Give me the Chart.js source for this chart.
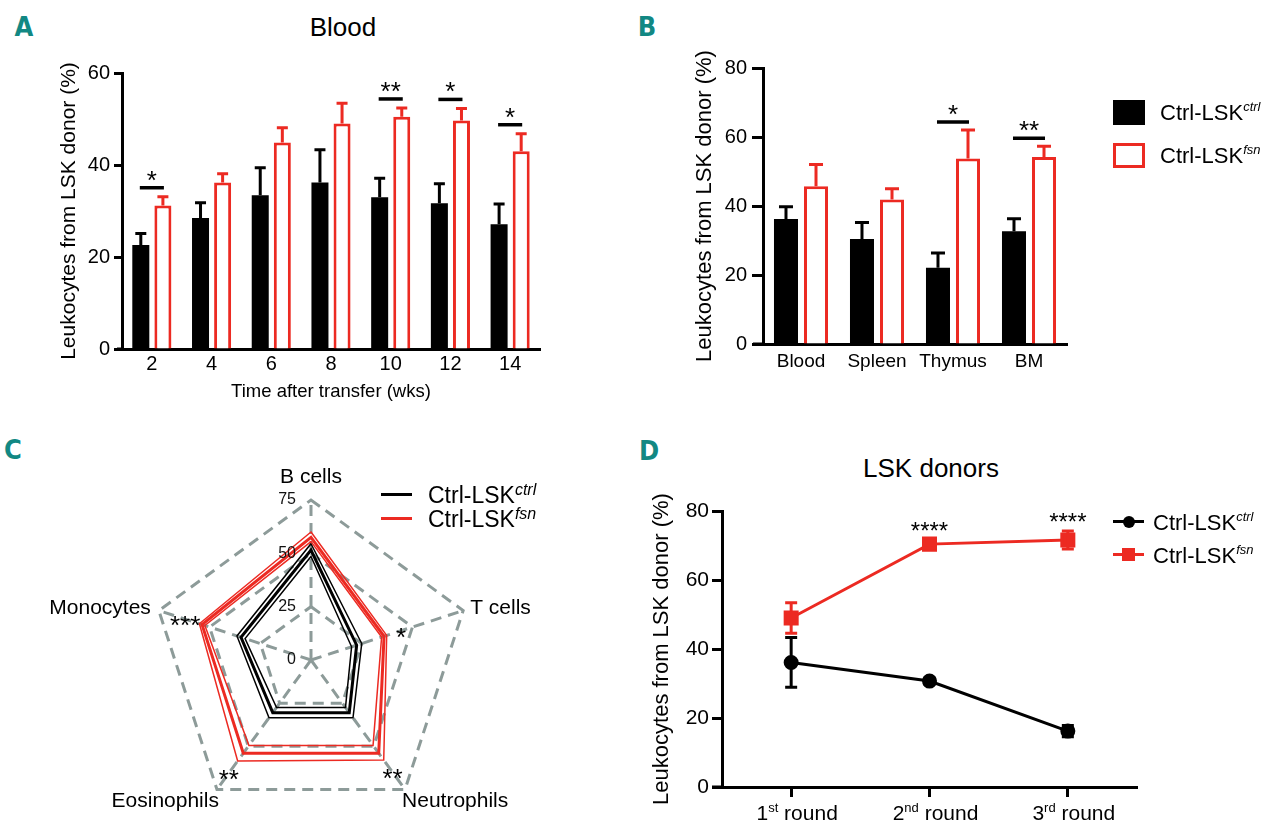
<!DOCTYPE html>
<html>
<head>
<meta charset="utf-8">
<title>Leukocytes from LSK donor</title>
<script src="https://cdn.jsdelivr.net/npm/chart.js@4.4.1/dist/chart.umd.min.js"></script>
<style>
  body { margin: 0; background: #fff; }
  #page { position: relative; width: 1280px; height: 830px; overflow: hidden;
          font-family: "Liberation Sans", Arial, sans-serif; color: #000; }
  canvas { position: absolute; }
  .abs { position: absolute; white-space: nowrap; }
  .letter { font-family: "DejaVu Sans Condensed", "DejaVu Sans", sans-serif; font-weight: bold;
            font-size: 27px; color: #128883; transform: translate(-50%, -50%); }
  .title { font-size: 26px; transform: translate(-50%, -50%); }
  .lt { font-size: 22px; transform: translateY(-50%); }
  .sup { font-style: italic; font-size: 13px; vertical-align: 9px; }
  .lt.big { font-size: 23px; }
  .lt.big .sup { font-size: 16px; vertical-align: 8px; }
</style>
</head>
<body>
<div id="page">
  <div class="abs letter" style="left:24px; top:26px">A</div>
  <div class="abs title" style="left:343px; top:27px">Blood</div>
  <div class="abs letter" style="left:647px; top:26px">B</div>
  <div class="abs letter" style="left:13px; top:449px">C</div>
  <div class="abs letter" style="left:649px; top:450px">D</div>
  <div class="abs title" style="left:931px; top:468px">LSK donors</div>

  <canvas id="chartA" width="560" height="370" style="left:0; top:40px"></canvas>
  <canvas id="chartB" width="640" height="370" style="left:640px; top:40px"></canvas>
  <canvas id="chartC" width="640" height="410" style="left:0; top:420px"></canvas>
  <canvas id="chartD" width="640" height="390" style="left:640px; top:440px"></canvas>

  <!-- legend B -->
  <div class="abs" style="left:1113px; top:100px; width:32px; height:25px; background:#000"></div>
  <div class="abs" style="left:1113px; top:143px; width:26px; height:19px; border:3px solid #ec2a22"></div>
  <div class="abs lt" style="left:1160px; top:112px">Ctrl-LSK<span class="sup">ctrl</span></div>
  <div class="abs lt" style="left:1160px; top:155px">Ctrl-LSK<span class="sup">fsn</span></div>

  <!-- legend C -->
  <div class="abs" style="left:381px; top:493px; width:31px; height:3px; background:#000"></div>
  <div class="abs" style="left:381px; top:517px; width:31px; height:3px; background:#ec2a22"></div>
  <div class="abs lt big" style="left:428px; top:495px">Ctrl-LSK<span class="sup">ctrl</span></div>
  <div class="abs lt big" style="left:428px; top:519px">Ctrl-LSK<span class="sup">fsn</span></div>

  <!-- legend D -->
  <div class="abs" style="left:1113px; top:520px; width:31px; height:3px; background:#000"></div>
  <div class="abs" style="left:1123px; top:516px; width:12px; height:12px; border-radius:50%; background:#000"></div>
  <div class="abs" style="left:1113px; top:553px; width:31px; height:3px; background:#ec2a22"></div>
  <div class="abs" style="left:1122px; top:548px; width:13px; height:13px; background:#ec2a22"></div>
  <div class="abs lt" style="left:1153px; top:522px">Ctrl-LSK<span class="sup">ctrl</span></div>
  <div class="abs lt" style="left:1153px; top:555px">Ctrl-LSK<span class="sup">fsn</span></div>
</div>

<script>
const FONT = '"Liberation Sans", Arial, sans-serif';
const RED = '#ec2a22';
const GREY = '#8d9b99';
const STAR_FONT = '26px ' + FONT;

Chart.defaults.font.family = FONT;
Chart.defaults.color = '#000';
Chart.defaults.animation = false;

// Panel A - blood, weeks after transfer
const weeks = ['2', '4', '6', '8', '10', '12', '14'];
const ctrlA = [22.6, 28.5, 33.4, 36.2, 33.0, 31.7, 27.1];
const ctrlAErr = [2.5, 3.3, 6.0, 7.1, 4.1, 4.2, 4.4];
const fsnA = [31.2, 36.2, 44.9, 49.0, 50.5, 49.7, 43.0];
const fsnAErr = [1.9, 1.9, 3.2, 4.4, 1.9, 2.6, 3.8];
const sigA = ['*', '', '', '', '**', '*', '*'];

// Panel B - organs
const organs = ['Blood', 'Spleen', 'Thymus', 'BM'];
const ctrlB = [36.2, 30.4, 22.1, 32.7];
const ctrlBErr = [3.6, 4.8, 4.3, 3.6];
const fsnB = [45.7, 41.9, 53.8, 54.2];
const fsnBErr = [6.3, 3.1, 8.2, 3.1];
const sigB = ['', '', '*', '**'];

// Panel C - lineages (mean and mean +/- SEM)
const cellTypes = ['B cells', 'T cells', 'Neutrophils', 'Eosinophils', 'Monocytes'];
const ctrlC = [51.5, 22.5, 30.5, 30.5, 34.5];
const ctrlCLow = [48.5, 20, 27.5, 27.5, 32.5];
const ctrlCHigh = [54.5, 25, 33.5, 33.5, 36.5];
const fsnC = [57.5, 36, 54, 54, 53.7];
const fsnCLow = [55.5, 34.8, 49.5, 49.5, 52.3];
const fsnCHigh = [60, 37.3, 58, 58.5, 55];
const sigC = ['', '*', '**', '**', '***'];

// Panel D - serial transplantation rounds
const rounds = ['1st round', '2nd round', '3rd round'];
const ctrlD = [36.1, 30.7, 16.2];
const ctrlDErr = [7.2, 0.9, 1.6];
const fsnD = [49.0, 70.4, 71.6];
const fsnDErr = [4.4, 1.2, 2.6];
const sigD = ['', '****', '****'];

// error bars (upper only), significance brackets and the small x-axis stub
const barExtras = {
  id: 'barExtras',
  afterDatasetsDraw(chart, args, opts) {
    const { ctx, chartArea, scales: { y } } = chart;
    ctx.save();
    ctx.lineWidth = 3;
    chart.data.datasets.forEach((ds, di) => {
      const meta = chart.getDatasetMeta(di);
      ctx.strokeStyle = ds.errColor;
      meta.data.forEach((bar, i) => {
        const top = y.getPixelForValue(ds.data[i] + ds.err[i]);
        ctx.beginPath();
        ctx.moveTo(bar.x, bar.y);
        ctx.lineTo(bar.x, top);
        ctx.moveTo(bar.x - opts.cap / 2, top);
        ctx.lineTo(bar.x + opts.cap / 2, top);
        ctx.stroke();
      });
    });

    const m0 = chart.getDatasetMeta(0), m1 = chart.getDatasetMeta(1);
    const fsn = chart.data.datasets[1];
    ctx.fillStyle = '#000';
    ctx.strokeStyle = '#000';
    ctx.textAlign = 'center';
    ctx.textBaseline = 'alphabetic';
    ctx.font = STAR_FONT;
    opts.sig.forEach((s, i) => {
      if (!s) return;
      const ly = y.getPixelForValue(fsn.data[i] + fsn.err[i]) - opts.gap;
      ctx.lineWidth = 3.5;
      ctx.beginPath();
      ctx.moveTo(m0.data[i].x - 1, ly);
      ctx.lineTo(m1.data[i].x + 1, ly);
      ctx.stroke();
      ctx.fillText(s, (m0.data[i].x + m1.data[i].x) / 2, ly + 1);
    });

    ctx.lineWidth = 3;
    ctx.beginPath();
    ctx.moveTo(chartArea.left - opts.stub, chartArea.bottom);
    ctx.lineTo(chartArea.left, chartArea.bottom);
    ctx.stroke();
    ctx.restore();
  }
};

function barChart(id, labels, ctrl, ctrlErr, fsn, fsnErr, sig, cfg) {
  return new Chart(document.getElementById(id), {
    type: 'bar',
    data: {
      labels: labels,
      datasets: [
        { label: 'Ctrl-LSK ctrl', data: ctrl, err: ctrlErr, errColor: '#000',
          backgroundColor: '#000', borderWidth: 0,
          categoryPercentage: cfg.catPct, barPercentage: cfg.barPct },
        { label: 'Ctrl-LSK fsn', data: fsn, err: fsnErr, errColor: RED,
          backgroundColor: '#fff', borderColor: RED, borderWidth: 3,
          categoryPercentage: cfg.catPct, barPercentage: cfg.barPct }
      ]
    },
    options: {
      responsive: false,
      layout: { padding: cfg.padding },
      plugins: { legend: { display: false }, tooltip: { enabled: false },
                 barExtras: { sig: sig, cap: cfg.cap, gap: cfg.gap, stub: cfg.stub } },
      scales: {
        x: {
          offset: true,
          grid: { display: false, drawTicks: false },
          border: { color: '#000', width: 3 },
          ticks: { font: { size: cfg.xFont }, padding: cfg.xPad, color: '#000' },
          title: cfg.xTitle,
          afterFit: s => { s.height = cfg.xHeight; }
        },
        y: {
          min: 0, max: cfg.yMax,
          ticks: { stepSize: 20, font: { size: 20 }, padding: cfg.yPad, color: '#000' },
          grid: { drawOnChartArea: false, tickLength: cfg.tick, tickWidth: 3, tickColor: '#000' },
          border: { color: '#000', width: 3 },
          title: { display: true, text: 'Leukocytes from LSK donor (%)',
                   font: { size: cfg.yTitleSize }, padding: { top: cfg.yTitlePad, bottom: 0 } },
          afterFit: s => { s.width = cfg.yWidth; }
        }
      }
    },
    plugins: [barExtras]
  });
}

barChart('chartA', weeks, ctrlA, ctrlAErr, fsnA, fsnAErr, sigA, {
  catPct: 0.74, barPct: 0.77, cap: 11, gap: 9, stub: 5,
  padding: { left: 0, top: 33, right: 20, bottom: 6 },
  xFont: 20, xPad: 3, xHeight: 55,
  xTitle: { display: true, text: 'Time after transfer (wks)', font: { size: 18.5 },
            padding: { top: 0, bottom: 1 } },
  yMax: 60, yPad: 4, tick: 8, yWidth: 122, yTitleSize: 21, yTitlePad: 57
});

barChart('chartB', organs, ctrlB, ctrlBErr, fsnB, fsnBErr, sigB, {
  catPct: 0.79, barPct: 0.8, cap: 14, gap: 8, stub: 10,
  padding: { left: 0, top: 28, right: 213, bottom: 26 },
  xFont: 19, xPad: 6, xHeight: 40,
  xTitle: { display: false },
  yMax: 80, yPad: 5, tick: 11, yWidth: 123, yTitleSize: 22, yTitlePad: 52
});

// Panel C - radar
const radarExtras = {
  id: 'radarExtras',
  afterDraw(chart, args, opts) {
    const { ctx } = chart;
    const r = chart.scales.r;
    ctx.save();
    ctx.fillStyle = '#111';
    ctx.font = '16px ' + FONT;
    ctx.textAlign = 'right';
    ctx.textBaseline = 'middle';
    r.ticks.forEach(t => {
      ctx.fillText(String(t.value), r.xCenter - 15, r.yCenter - r.getDistanceFromCenterForValue(t.value));
    });

    const place = [
      { dx: 0, dy: -23, align: 'center' },
      { dx: 7, dy: -2, align: 'left' },
      { dx: -3, dy: 12, align: 'left' },
      { dx: 2, dy: 12, align: 'right' },
      { dx: -8, dy: -2, align: 'right' }
    ];
    ctx.fillStyle = '#000';
    ctx.font = '21px ' + FONT;
    chart.data.labels.forEach((lab, i) => {
      const p = r.getPointPosition(i, r.drawingArea);
      ctx.textAlign = place[i].align;
      ctx.fillText(lab, p.x + place[i].dx, p.y + place[i].dy);
    });

    ctx.font = STAR_FONT;
    ctx.textAlign = 'center';
    ctx.textBaseline = 'alphabetic';
    opts.sig.forEach((s, i) => {
      if (!s) return;
      const p = r.getPointPosition(i, r.getDistanceFromCenterForValue(opts.high[i]) + 15);
      ctx.fillText(s, p.x, p.y + 15);
    });
    ctx.restore();
  }
};

function ring(label, data, color, width) {
  return { label: label, data: data, borderColor: color, borderWidth: width,
           fill: false, pointRadius: 0, pointHoverRadius: 0, tension: 0 };
}

new Chart(document.getElementById('chartC'), {
  type: 'radar',
  data: {
    labels: cellTypes,
    datasets: [
      ring('fsn +SEM', fsnCHigh, RED, 1.5),
      ring('fsn', fsnC, RED, 3),
      ring('fsn -SEM', fsnCLow, RED, 1.5),
      ring('ctrl +SEM', ctrlCHigh, '#000', 1.5),
      ring('ctrl', ctrlC, '#000', 3),
      ring('ctrl -SEM', ctrlCLow, '#000', 1.5)
    ]
  },
  options: {
    responsive: false,
    layout: { padding: { left: 151, right: 169, top: 80, bottom: 10 } },
    plugins: { legend: { display: false }, tooltip: { enabled: false },
               radarExtras: { sig: sigC, high: fsnCHigh } },
    scales: {
      r: {
        min: 0, max: 75,
        ticks: { stepSize: 25, display: false },
        pointLabels: { display: false },
        grid: { color: GREY, lineWidth: 3 },
        border: { dash: [11, 7] },
        angleLines: { color: GREY, lineWidth: 3, borderDash: [11, 7] }
      }
    }
  },
  plugins: [radarExtras]
});

// Panel D - lines with +/- SEM
const lineExtras = {
  id: 'lineExtras',
  afterDatasetsDraw(chart, args, opts) {
    const { ctx, chartArea, scales: { y } } = chart;
    ctx.save();
    ctx.lineWidth = 3;
    chart.data.datasets.forEach((ds, di) => {
      const meta = chart.getDatasetMeta(di);
      ctx.strokeStyle = ds.borderColor;
      meta.data.forEach((pt, i) => {
        const hi = y.getPixelForValue(ds.data[i] + ds.err[i]);
        const lo = y.getPixelForValue(ds.data[i] - ds.err[i]);
        ctx.beginPath();
        ctx.moveTo(pt.x, hi); ctx.lineTo(pt.x, lo);
        ctx.moveTo(pt.x - 6, hi); ctx.lineTo(pt.x + 6, hi);
        ctx.moveTo(pt.x - 6, lo); ctx.lineTo(pt.x + 6, lo);
        ctx.stroke();
      });
    });

    const fsn = chart.data.datasets[1];
    const m1 = chart.getDatasetMeta(1);
    ctx.fillStyle = '#000';
    ctx.font = '24px ' + FONT;
    ctx.textAlign = 'center';
    ctx.textBaseline = 'alphabetic';
    opts.sig.forEach((s, i) => {
      if (!s) return;
      const top = y.getPixelForValue(fsn.data[i] + fsn.err[i]);
      ctx.fillText(s, m1.data[i].x, top - 1);
    });

    ctx.strokeStyle = '#000';
    ctx.beginPath();
    ctx.moveTo(chartArea.left - 10, chartArea.bottom);
    ctx.lineTo(chartArea.left, chartArea.bottom);
    ctx.stroke();
    ctx.restore();
  },
  afterDraw(chart) {
    const { ctx, scales: { x } } = chart;
    const base = x.top + 33;
    ctx.save();
    ctx.fillStyle = '#000';
    ctx.textAlign = 'left';
    ctx.textBaseline = 'alphabetic';
    chart.data.labels.forEach((lab, i) => {
      const m = lab.match(/^(\d+)(st|nd|rd|th)(.*)$/);
      ctx.font = '21px ' + FONT;
      const w1 = ctx.measureText(m[1]).width;
      const w3 = ctx.measureText(m[3]).width;
      ctx.font = '13px ' + FONT;
      const w2 = ctx.measureText(m[2]).width;
      let left = x.getPixelForValue(i) + 6 - (w1 + w2 + w3) / 2;
      ctx.font = '21px ' + FONT;
      ctx.fillText(m[1], left, base);
      ctx.font = '13px ' + FONT;
      ctx.fillText(m[2], left + w1, base - 8);
      ctx.font = '21px ' + FONT;
      ctx.fillText(m[3], left + w1 + w2, base);
    });
    ctx.restore();
  }
};

new Chart(document.getElementById('chartD'), {
  type: 'line',
  data: {
    labels: rounds,
    datasets: [
      { label: 'Ctrl-LSK ctrl', data: ctrlD, err: ctrlDErr, borderColor: '#000', borderWidth: 3,
        pointStyle: 'circle', pointRadius: 6, pointBackgroundColor: '#000', pointBorderColor: '#000',
        tension: 0 },
      { label: 'Ctrl-LSK fsn', data: fsnD, err: fsnDErr, borderColor: RED, borderWidth: 3,
        pointStyle: 'rect', pointRadius: 8.5, pointBackgroundColor: RED, pointBorderColor: RED,
        tension: 0 }
    ]
  },
  options: {
    responsive: false,
    layout: { padding: { left: 0, top: 71, right: 143, bottom: 0 } },
    plugins: { legend: { display: false }, tooltip: { enabled: false },
               lineExtras: { sig: sigD } },
    scales: {
      x: {
        offset: true,
        grid: { drawOnChartArea: false, tickLength: 10, tickWidth: 3, tickColor: '#000' },
        border: { color: '#000', width: 3 },
        ticks: { display: false },
        afterFit: s => { s.height = 43; }
      },
      y: {
        min: 0, max: 80,
        ticks: { stepSize: 20, font: { size: 21 }, padding: 3, color: '#000' },
        grid: { drawOnChartArea: false, tickLength: 10, tickWidth: 3, tickColor: '#000' },
        border: { color: '#000', width: 3 },
        title: { display: true, text: 'Leukocytes from LSK donor (%)',
                 font: { size: 22 }, padding: { top: 9, bottom: 0 } },
        afterFit: s => { s.width = 82; }
      }
    }
  },
  plugins: [lineExtras]
});
</script>
</body>
</html>
